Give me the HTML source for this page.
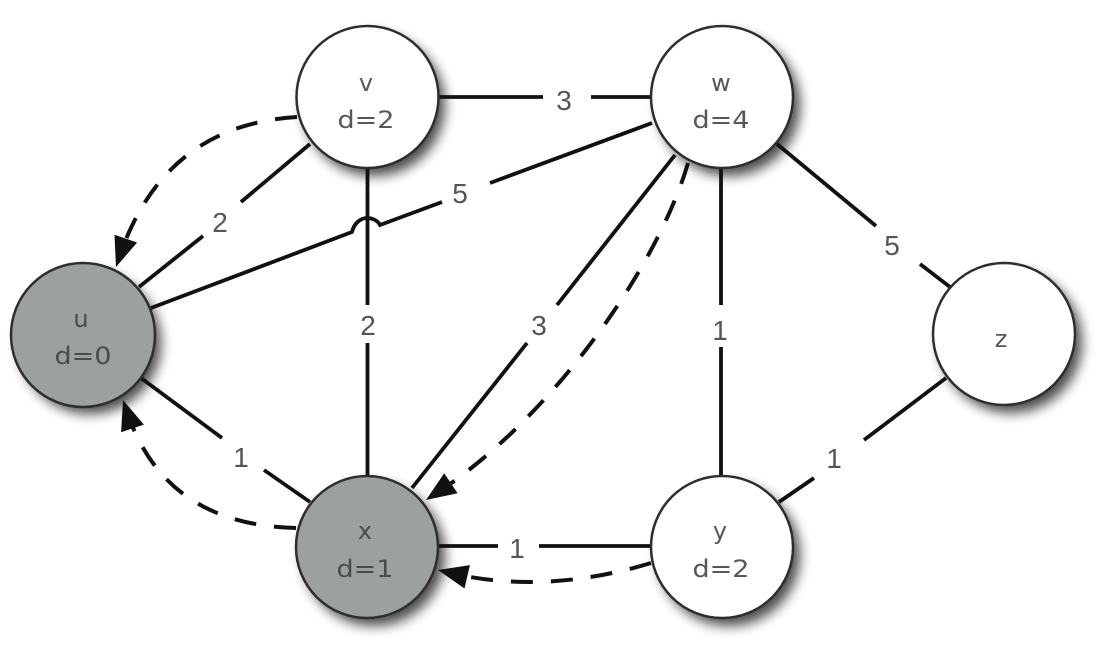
<!DOCTYPE html>
<html>
<head>
<meta charset="utf-8">
<style>
  html, body { margin: 0; padding: 0; background: #ffffff; }
  body { width: 1104px; height: 651px; overflow: hidden; }
  svg { display: block; }
  .node { stroke: #2e2e2e; stroke-width: 2.5; }
  .e { stroke: #111; stroke-width: 3.8; fill: none; stroke-linecap: butt; }
  .d { stroke: #111; stroke-width: 4; fill: none; stroke-dasharray: 22 18; }
  .lbl { font-family: "Liberation Sans", sans-serif; font-size: 28px; fill: #555; text-anchor: middle; }
  .nt { font-family: "DejaVu Sans", "Liberation Sans", sans-serif; font-size: 24px; fill: #575757; text-anchor: middle; }
  .ntg { font-family: "DejaVu Sans", "Liberation Sans", sans-serif; font-size: 24px; fill: #4a4c4c; text-anchor: middle; }
</style>
</head>
<body>
<svg width="1104" height="651" viewBox="0 0 1104 651" xmlns="http://www.w3.org/2000/svg">
  <defs>
    <filter id="blur" x="-50%" y="-50%" width="200%" height="200%">
      <feGaussianBlur stdDeviation="6"/>
    </filter>
  </defs>
  <rect width="1104" height="651" fill="#ffffff"/>

  <!-- shadows -->
  <g fill="#000" opacity="0.7" filter="url(#blur)">
    <circle cx="374" cy="105" r="71"/>
    <circle cx="729" cy="105" r="71"/>
    <circle cx="90" cy="343" r="71"/>
    <circle cx="1011" cy="342" r="71"/>
    <circle cx="374" cy="555" r="71"/>
    <circle cx="729" cy="555" r="71"/>
  </g>

  <!-- solid edges -->
  <path class="e" d="M438,97 L543,97 M591,97 L650,97"/>
  <path class="e" d="M310,144 L241,202 M203,236 L139,287"/>
  <path class="e" d="M151,308 L352,232 C354,223 361,218 367,218 C373,218 378,221 380,225 L442,202 M490,183 L652,123"/>
  <path class="e" d="M367.5,168 L367.5,305 M367.5,343 L367.5,476"/>
  <path class="e" d="M675,155 L557,305 M527,343 L412,488"/>
  <path class="e" d="M721,168 L721,305 M721,347 L721,476"/>
  <path class="e" d="M777,144 L876,226 M920,264 L950,287"/>
  <path class="e" d="M946,378 L864,440 M814,478 L779,502"/>
  <path class="e" d="M438,546 L498,546 M539,546 L650,546"/>
  <path class="e" d="M141,378 L222,438 M264,470 L310,502"/>

  <!-- dashed edges -->
  <path class="d" d="M297,117 Q165,125 120,255"/>
  <path class="d" d="M296,528 Q165,525 127,412"/>
  <path class="d" d="M688,163 C660,260 560,410 440,491"/>
  <path class="d" d="M651,563 Q545,595 450,573"/>

  <!-- arrowheads -->
  <g fill="#111">
    <polygon points="116,267 137.1,242.5 114.5,234.7"/>
    <polygon points="123,400 143.9,424.6 121.1,432.2"/>
    <polygon points="426,500 457.6,493.3 444.2,473.3"/>
    <polygon points="438,570 469.9,565.1 464.5,588.5"/>
  </g>

  <!-- nodes -->
  <circle class="node" cx="367.5" cy="97" r="71" fill="#ffffff"/>
  <circle class="node" cx="722" cy="97" r="71" fill="#ffffff"/>
  <circle class="node" cx="83" cy="335" r="72" fill="#9da0a0"/>
  <circle class="node" cx="1004" cy="334" r="71" fill="#ffffff"/>
  <circle class="node" cx="367" cy="547" r="71" fill="#9da0a0"/>
  <circle class="node" cx="722" cy="547" r="71" fill="#ffffff"/>

  <!-- node labels -->
  <text class="nt" x="366" y="91">v</text>
  <text class="nt" x="366" y="128" textLength="57" lengthAdjust="spacingAndGlyphs">d=2</text>

  <text class="nt" x="721" y="91">w</text>
  <text class="nt" x="721" y="128" textLength="57" lengthAdjust="spacingAndGlyphs">d=4</text>

  <text class="ntg" x="81" y="327">u</text>
  <text class="ntg" x="83" y="364" textLength="57" lengthAdjust="spacingAndGlyphs">d=0</text>

  <text class="nt" x="1001" y="347">z</text>

  <text class="ntg" x="365" y="539">x</text>
  <text class="ntg" x="365" y="577" textLength="57" lengthAdjust="spacingAndGlyphs">d=1</text>

  <text class="nt" x="720" y="539">y</text>
  <text class="nt" x="721" y="577" textLength="57" lengthAdjust="spacingAndGlyphs">d=2</text>

  <!-- edge labels -->
  <text class="lbl" x="564" y="110">3</text>
  <text class="lbl" x="220" y="232">2</text>
  <text class="lbl" x="460" y="203">5</text>
  <text class="lbl" x="368" y="335">2</text>
  <text class="lbl" x="539" y="335">3</text>
  <text class="lbl" x="720" y="340">1</text>
  <text class="lbl" x="892" y="255">5</text>
  <text class="lbl" x="834" y="468">1</text>
  <text class="lbl" x="517" y="558">1</text>
  <text class="lbl" x="241" y="467">1</text>
</svg>
</body>
</html>
